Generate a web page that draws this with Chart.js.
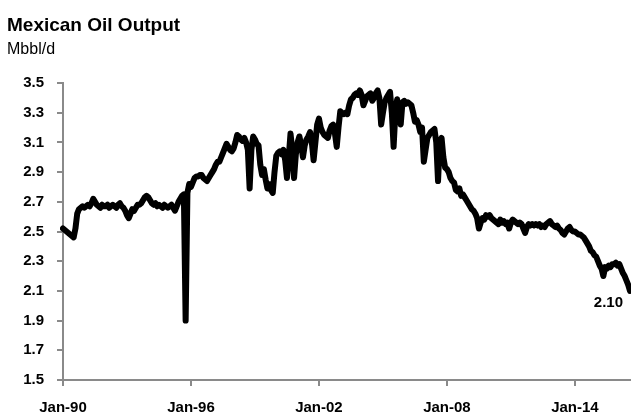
<!DOCTYPE html>
<html>
<head>
<meta charset="utf-8">
<script src="https://cdn.jsdelivr.net/npm/chart.js@4.4.0/dist/chart.umd.min.js"></script>
<style>
  html, body { margin: 0; padding: 0; background: #fff; }
  #wrap { width: 631px; height: 419px; position: relative; }
</style>
</head>
<body>
<div id="wrap"><canvas id="oilChart" width="631" height="419"></canvas></div>
<script>
// Mexican oil output, monthly from Jan-1990, Mbbl/d
const chartTitle = 'Mexican Oil Output';
const chartUnit = 'Mbbl/d';
const startYear = 1990;
const monthNames = ['Jan', 'Feb', 'Mar', 'Apr', 'May', 'Jun', 'Jul', 'Aug', 'Sep', 'Oct', 'Nov', 'Dec'];
const tickLabels = ['Jan-90', 'Jan-96', 'Jan-02', 'Jan-08', 'Jan-14'];
const yTicks = { min: 1.5, max: 3.5, step: 0.2 };
const lastLabel = '2.10';

const output = [
    2.52, 2.51, 2.50, 2.49, 2.48, 2.47, 2.46, 2.52, 2.62, 2.65, 2.66, 2.67, // 1990
    2.66, 2.67, 2.68, 2.67, 2.69, 2.72, 2.70, 2.68, 2.67, 2.66, 2.68, 2.67, // 1991
    2.67, 2.68, 2.66, 2.67, 2.68, 2.67, 2.66, 2.68, 2.69, 2.67, 2.66, 2.64, // 1992
    2.61, 2.59, 2.62, 2.65, 2.64, 2.66, 2.68, 2.68, 2.69, 2.71, 2.73, 2.74, // 1993
    2.73, 2.71, 2.69, 2.68, 2.69, 2.67, 2.68, 2.67, 2.66, 2.68, 2.67, 2.66, // 1994
    2.67, 2.68, 2.66, 2.64, 2.67, 2.70, 2.72, 2.74, 2.75, 1.90, 2.76, 2.82, // 1995
    2.80, 2.83, 2.86, 2.87, 2.87, 2.88, 2.88, 2.86, 2.85, 2.84, 2.86, 2.88, // 1996
    2.90, 2.92, 2.95, 2.97, 2.97, 3.00, 3.03, 3.06, 3.09, 3.07, 3.05, 3.04, // 1997
    3.06, 3.10, 3.15, 3.14, 3.12, 3.11, 3.13, 3.10, 3.05, 2.79, 3.05, 3.14, // 1998
    3.12, 3.09, 3.08, 2.95, 2.88, 2.92, 2.85, 2.79, 2.82, 2.78, 2.76, 2.90, // 1999
    3.01, 3.03, 3.04, 3.02, 3.05, 2.98, 2.86, 3.00, 3.16, 3.05, 2.86, 3.02, // 2000
    3.10, 3.14, 3.08, 3.00, 3.08, 3.12, 3.14, 3.17, 3.10, 2.98, 3.10, 3.22, // 2001
    3.26, 3.20, 3.17, 3.15, 3.14, 3.13, 3.18, 3.21, 3.22, 3.16, 3.07, 3.20, // 2002
    3.31, 3.30, 3.29, 3.30, 3.29, 3.35, 3.39, 3.40, 3.42, 3.43, 3.42, 3.45, // 2003
    3.42, 3.35, 3.38, 3.41, 3.42, 3.43, 3.38, 3.40, 3.43, 3.45, 3.40, 3.22, // 2004
    3.30, 3.37, 3.40, 3.42, 3.44, 3.30, 3.07, 3.30, 3.39, 3.30, 3.22, 3.37, // 2005
    3.38, 3.36, 3.37, 3.36, 3.35, 3.30, 3.24, 3.25, 3.22, 3.17, 3.20, 2.97, // 2006
    3.05, 3.13, 3.15, 3.17, 3.18, 3.19, 3.10, 2.84, 3.10, 3.13, 3.00, 2.93, // 2007
    2.92, 2.90, 2.86, 2.84, 2.83, 2.78, 2.77, 2.79, 2.74, 2.75, 2.73, 2.71, // 2008
    2.69, 2.67, 2.65, 2.64, 2.62, 2.59, 2.52, 2.56, 2.59, 2.58, 2.61, 2.60, // 2009
    2.61, 2.59, 2.58, 2.57, 2.56, 2.55, 2.58, 2.56, 2.57, 2.55, 2.56, 2.52, // 2010
    2.56, 2.58, 2.57, 2.56, 2.55, 2.56, 2.55, 2.52, 2.49, 2.53, 2.55, 2.54, // 2011
    2.55, 2.54, 2.55, 2.54, 2.55, 2.53, 2.54, 2.53, 2.55, 2.56, 2.57, 2.55, // 2012
    2.54, 2.53, 2.54, 2.52, 2.51, 2.49, 2.48, 2.50, 2.52, 2.53, 2.51, 2.50, // 2013
    2.50, 2.49, 2.48, 2.48, 2.47, 2.46, 2.44, 2.42, 2.40, 2.37, 2.36, 2.34, // 2014
    2.33, 2.30, 2.27, 2.25, 2.20, 2.26, 2.25, 2.27, 2.26, 2.28, 2.28, 2.29, // 2015
    2.27, 2.28, 2.25, 2.22, 2.20, 2.17, 2.14, 2.10                          // 2016
];

// month labels like Jan-90 ... Aug-16
const months = output.map((v, i) => {
    const yy = (startYear + Math.floor(i / 12)) % 100;
    return monthNames[i % 12] + '-' + String(yy).padStart(2, '0');
});

const axisGray = '#8a8a8a';
const fontFamily = '"Liberation Sans", Arial, sans-serif';

// title, unit and the end-of-series label
const textPlugin = {
    id: 'textPlugin',
    afterDraw(chart) {
        const ctx = chart.ctx;
        ctx.save();
        ctx.fillStyle = '#000';
        ctx.textAlign = 'left';
        ctx.textBaseline = 'alphabetic';
        ctx.font = 'bold 19px ' + fontFamily;
        ctx.fillText(chartTitle, 7, 31);
        ctx.font = '16px ' + fontFamily;
        ctx.fillText(chartUnit, 7, 54);

        const meta = chart.getDatasetMeta(0);
        const last = meta.data[meta.data.length - 1];
        ctx.font = 'bold 15px ' + fontFamily;
        ctx.textAlign = 'right';
        ctx.textBaseline = 'top';
        ctx.fillText(lastLabel, last.x - 7, last.y + 4);
        ctx.restore();
    }
};

const ctx = document.getElementById('oilChart').getContext('2d');
new Chart(ctx, {
    type: 'line',
    data: {
        labels: months,
        datasets: [{
            data: output,
            borderColor: '#000',
            borderWidth: 6,
            borderJoinStyle: 'round',
            borderCapStyle: 'round',
            pointRadius: 0,
            tension: 0,
            fill: false
        }]
    },
    options: {
        responsive: false,
        animation: false,
        layout: {
            padding: { top: 83, right: 1, left: 0, bottom: 0 }
        },
        plugins: {
            legend: { display: false },
            tooltip: { enabled: false },
            title: { display: false }
        },
        scales: {
            x: {
                type: 'category',
                offset: false,
                afterFit: function(scale) { scale.height = 39; },
                grid: {
                    drawOnChartArea: false,
                    drawTicks: true,
                    tickLength: 6,
                    color: axisGray,
                    lineWidth: 2
                },
                border: { display: true, color: axisGray, width: 2 },
                ticks: {
                    autoSkip: false,
                    maxRotation: 0,
                    padding: 13,
                    color: '#000',
                    font: { family: fontFamily, size: 15, weight: 'bold' },
                    callback: function(value, index) {
                        const lab = months[index];
                        return tickLabels.includes(lab) ? lab : null;
                    }
                }
            },
            y: {
                min: yTicks.min,
                max: yTicks.max,
                afterFit: function(scale) { scale.width = 63; },
                grid: {
                    drawOnChartArea: false,
                    drawTicks: true,
                    tickLength: 6,
                    color: axisGray,
                    lineWidth: 2
                },
                border: { display: true, color: axisGray, width: 2 },
                ticks: {
                    stepSize: yTicks.step,
                    padding: 13,
                    color: '#000',
                    font: { family: fontFamily, size: 15, weight: 'bold' },
                    callback: function(value) { return value.toFixed(1); }
                }
            }
        }
    },
    plugins: [textPlugin]
});
</script>
</body>
</html>
